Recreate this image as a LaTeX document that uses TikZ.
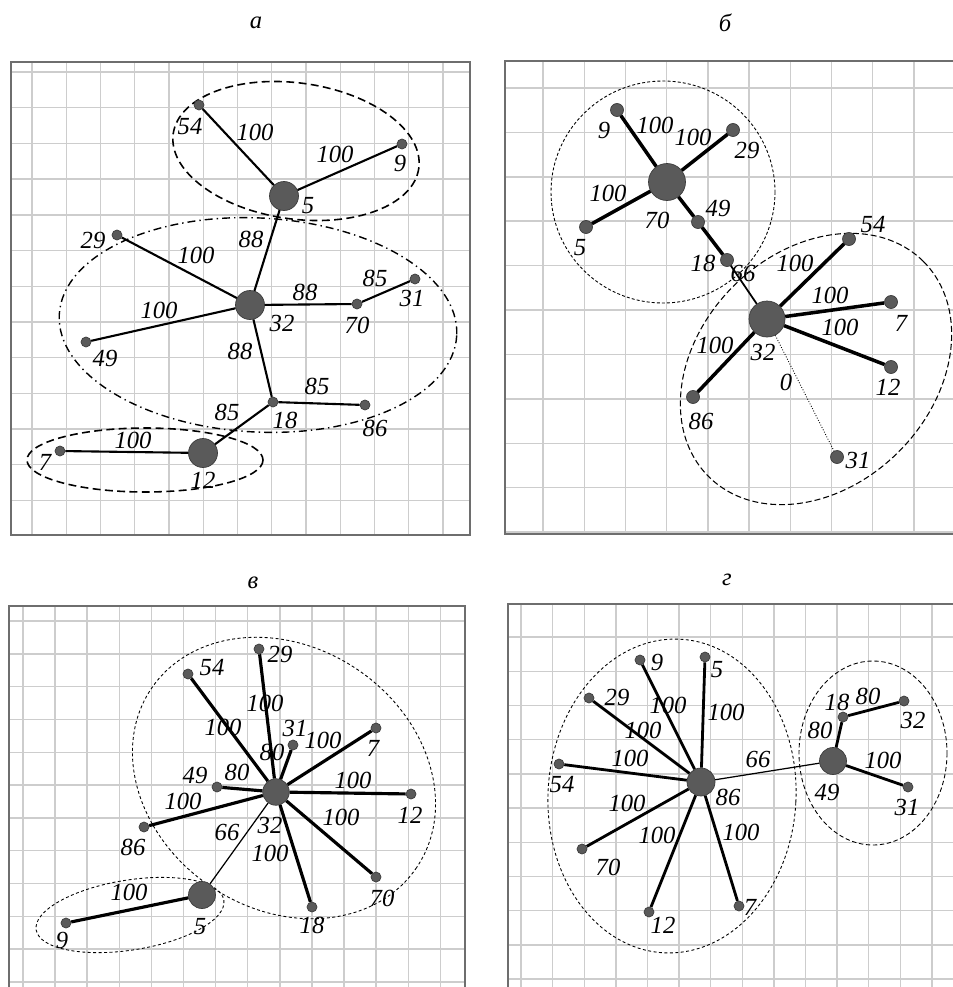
\documentclass[tikz,border=0pt]{standalone}
\usepackage{fontspec}
\setmainfont{Liberation Serif}
\definecolor{vgray}{HTML}{5A5A5A}
\definecolor{vedge}{HTML}{3C3C3C}
\definecolor{gridc}{HTML}{CDCDCD}
\definecolor{framec}{HTML}{6E6E6E}
\begin{document}
\begin{tikzpicture}[x=0.2mm, y=-0.2mm,
	vtx/.style={circle, fill=vgray, draw=vedge, line width=0.4pt, inner sep=0pt, minimum size=#1},
	vtx/.default=2mm,
	lb/.style={font=\fontsize{14}{16}\selectfont\itshape, inner sep=0pt},
	gridl/.style={gridc, line width=0.8pt},
	frm/.style={framec, line width=1.1pt},
	thin edge/.style={line width=0.7pt}]
	\useasboundingbox (0,0) rectangle (953,987);
	% --- panel a ---
	\node[lb] (ta) at (256,23) {а};
	\begin{scope}
	\clip (11,62) rectangle (470,535);
	\foreach \i in {0,...,12} \draw[gridl] ({32+34.25*\i},62) -- ({32+34.25*\i},535);
	\foreach \j in {0,...,12} \draw[gridl] (11,{72+35.7*\j}) -- (470,{72+35.7*\j});
	\end{scope}
	\draw[frm] (11,62) rectangle (470,535);
	\draw[line width=0.9pt, dash pattern=on 4.5pt off 2.5pt, rotate around={-8:(296,151)}] (296,151) ellipse [x radius=124, y radius=68];
	\draw[line width=0.8pt, dash pattern=on 4.5pt off 2.3pt on 0.8pt off 2.3pt, rotate around={-3:(258,325)}] (258,325) ellipse [x radius=199, y radius=107];
	\draw[line width=0.9pt, dash pattern=on 4.5pt off 2.5pt] (145,460) ellipse [x radius=118, y radius=32];
	\node[vtx=5.8mm] (a5) at (284,196) {};
	\node[vtx] (a54) at (199,105) {};
	\node[vtx] (a9) at (402,144) {};
	\node[vtx] (a29) at (117,235) {};
	\node[vtx=5.8mm] (a32) at (250,305) {};
	\node[vtx] (a70) at (357,304) {};
	\node[vtx] (a31) at (415,279) {};
	\node[vtx] (a49) at (86,342) {};
	\node[vtx] (a18) at (273,402) {};
	\node[vtx] (a86) at (365,405) {};
	\node[vtx=5.8mm] (a12) at (203,453) {};
	\node[vtx] (a7) at (60,451) {};
	\draw[line width=1.2pt] (a54) -- (a5) (a5) -- (a9) (a5) -- (a32) (a29) -- (a32) (a49) -- (a32)
		(a32) -- (a70) (a70) -- (a31) (a32) -- (a18) (a18) -- (a86) (a18) -- (a12) (a7) -- (a12);
	\foreach \t/\x/\y in {54/190/127, 5/308/206, 9/400/163, 29/93/240, 32/282/323, 70/357/325,
		31/412/298, 49/105/358, 18/285/420, 86/375/428, 12/203/480, 7/45/462}
		\node[lb] (at\t) at (\x,\y) {\t};
	\foreach \t/\x/\y [count=\k] in {100/255/132, 100/335/154, 88/251/239, 100/196/255, 100/159/310,
		88/305/292, 85/375/278, 88/240/351, 85/317/386, 85/227/412, 100/133/440}
		\node[lb] (aw\k) at (\x,\y) {\t};
	% --- panel b ---
	\node[lb] (tb) at (725,23) {б};
	\begin{scope}
	\clip (505,61) rectangle (965,534);
	\foreach \i in {-1,...,10} \draw[gridl] ({543+41.2*\i},61) -- ({543+41.2*\i},534);
	\foreach \j in {0,...,10} \draw[gridl] (505,{88+44.4*\j}) -- (965,{88+44.4*\j});
	\end{scope}
	\draw[frm] (965,61) -- (505,61) -- (505,534) -- (965,534);
	\draw[line width=0.5pt, dash pattern=on 1.7pt off 1.2pt] (663,192) ellipse [x radius=112, y radius=111];
	\draw[line width=0.6pt, dash pattern=on 3.4pt off 1.7pt, rotate around={45:(816,369)}] (816,369) ellipse [x radius=152, y radius=117];
	\node[vtx=7.4mm] (b70) at (667,182) {};
	\node[vtx=2.6mm] (b9) at (617,110) {};
	\node[vtx=2.6mm] (b29) at (733,130) {};
	\node[vtx=2.6mm] (b5) at (586,227) {};
	\node[vtx=2.6mm] (b49) at (698,222) {};
	\node[vtx=2.6mm] (b18) at (727,260) {};
	\node[vtx=7.2mm] (b32) at (767,319) {};
	\node[vtx=2.6mm] (b54) at (849,239) {};
	\node[vtx=2.6mm] (b7) at (891,302) {};
	\node[vtx=2.6mm] (b12) at (891,367) {};
	\node[vtx=2.6mm] (b86) at (693,397) {};
	\node[vtx=2.6mm] (b31) at (837,457) {};
	\draw[line width=2pt] (b9) -- (b70) (b70) -- (b29) (b5) -- (b70) (b70) -- (b49) (b49) -- (b18)
		(b32) -- (b54) (b32) -- (b7) (b32) -- (b12) (b32) -- (b86);
	\draw[line width=1pt] (b18) -- (b32);
	\draw[line width=0.5pt, densely dotted] (b32) -- (b31);
	\foreach \t/\x/\y in {9/604/130, 70/657/220, 29/747/150, 5/580/248, 49/718/208, 18/703/263,
		32/763/352, 54/873/225, 7/901/323, 12/888/387, 86/701/421, 31/858/460}
		\node[lb] (bt\t) at (\x,\y) {\t};
	\foreach \t/\x/\y [count=\k] in {100/655/125, 100/693/137, 100/608/193, 66/743/273, 100/795/263,
		100/830/295, 100/840/327, 100/715/345, 0/786/382}
		\node[lb] (bw\k) at (\x,\y) {\t};
	% --- panel v ---
	\node[lb] (tc) at (253,583) {в};
	\begin{scope}
	\clip (9,606) rectangle (465,1000);
	\foreach \i in {0,...,13} \draw[gridl] ({23+32.1*\i},606) -- ({23+32.1*\i},1000);
	\foreach \j in {0,...,11} \draw[gridl] (9,{621+32.8*\j}) -- (465,{621+32.8*\j});
	\end{scope}
	\draw[frm] (9,1000) -- (9,606) -- (465,606) -- (465,1000);
	\draw[line width=0.5pt, dash pattern=on 1.7pt off 1.4pt, rotate around={-34:(284,778)}] (284,778) ellipse [x radius=160, y radius=131];
	\draw[line width=0.5pt, dash pattern=on 1.7pt off 1.4pt, rotate around={9:(130,915)}] (130,915) ellipse [x radius=95, y radius=35];
	\node[vtx=5.3mm] (c32) at (276,792) {};
	\node[vtx] (c54) at (188,674) {};
	\node[vtx] (c29) at (259,649) {};
	\node[vtx] (c31) at (293,745) {};
	\node[vtx] (c7) at (376,728) {};
	\node[vtx] (c49) at (217,787) {};
	\node[vtx] (c12) at (411,794) {};
	\node[vtx] (c86) at (144,827) {};
	\node[vtx] (c70) at (376,877) {};
	\node[vtx] (c18) at (312,907) {};
	\node[vtx=5.4mm] (c5) at (202,895) {};
	\node[vtx] (c9) at (66,923) {};
	\draw[line width=1.8pt] (c54) -- (c32) (c29) -- (c32) (c31) -- (c32) (c7) -- (c32) (c49) -- (c32)
		(c12) -- (c32) (c86) -- (c32) (c32) -- (c18) (c32) -- (c70) (c9) -- (c5);
	\draw[thin edge] (c32) -- (c5);
	\foreach \t/\x/\y in {54/212/668, 29/280/654, 31/295/728, 7/373/748, 32/270/825, 49/195/775,
		12/410/815, 86/133/847, 70/382/898, 18/312/925, 5/200/927, 9/62/940}
		\node[lb] (ct\t) at (\x,\y) {\t};
	\foreach \t/\x/\y [count=\k] in {100/223/727, 100/265/703, 80/272/752, 100/323/740, 80/237/772,
		100/353/780, 100/183/801, 66/227/832, 100/270/853, 100/341/817, 100/129/892}
		\node[lb] (cw\k) at (\x,\y) {\t};
	% --- panel g ---
	\node[lb] (td) at (727,580) {г};
	\begin{scope}
	\clip (508,604) rectangle (965,1000);
	\foreach \i in {0,...,14} \draw[gridl] ({521+31.6*\i},604) -- ({521+31.6*\i},1000);
	\foreach \j in {0,...,10} \draw[gridl] (508,{637+34.2*\j}) -- (965,{637+34.2*\j});
	\end{scope}
	\draw[frm] (508,1000) -- (508,604) -- (965,604);
	\draw[line width=0.5pt, dash pattern=on 1.7pt off 1.4pt, rotate around={-3:(672,796)}] (672,796) ellipse [x radius=124, y radius=157];
	\draw[line width=0.5pt, dash pattern=on 2.5pt off 1.5pt] (873,753) ellipse [x radius=74, y radius=92];
	\node[vtx=5.6mm] (d86) at (701,782) {};
	\node[vtx] (d9) at (640,660) {};
	\node[vtx] (d5) at (705,657) {};
	\node[vtx] (d29) at (589,698) {};
	\node[vtx] (d54) at (559,764) {};
	\node[vtx] (d70) at (582,849) {};
	\node[vtx] (d12) at (649,912) {};
	\node[vtx] (d7) at (739,906) {};
	\node[vtx=5.4mm] (d49) at (833,761) {};
	\node[vtx] (d18) at (843,717) {};
	\node[vtx] (d32) at (904,701) {};
	\node[vtx] (d31) at (908,787) {};
	\draw[line width=1.6pt] (d9) -- (d86) (d5) -- (d86) (d29) -- (d86) (d54) -- (d86) (d70) -- (d86)
		(d12) -- (d86) (d7) -- (d86) (d49) -- (d18) (d18) -- (d32) (d49) -- (d31);
	\draw[thin edge] (d86) -- (d49);
	\foreach \t/\x/\y in {9/657/662, 5/717/670, 29/617/697, 54/562/785, 86/728/797, 18/837/702,
		32/913/720, 49/827/792, 31/907/807, 70/608/867, 12/663/925, 7/750/907}
		\node[lb] (dt\t) at (\x,\y) {\t};
	\foreach \t/\x/\y [count=\k] in {100/668/705, 100/726/712, 100/643/730, 100/630/758, 66/758/759,
		80/820/730, 80/868/696, 100/883/760, 100/627/803, 100/657/835, 100/741/832}
		\node[lb] (dw\k) at (\x,\y) {\t};
\end{tikzpicture}
\end{document}
